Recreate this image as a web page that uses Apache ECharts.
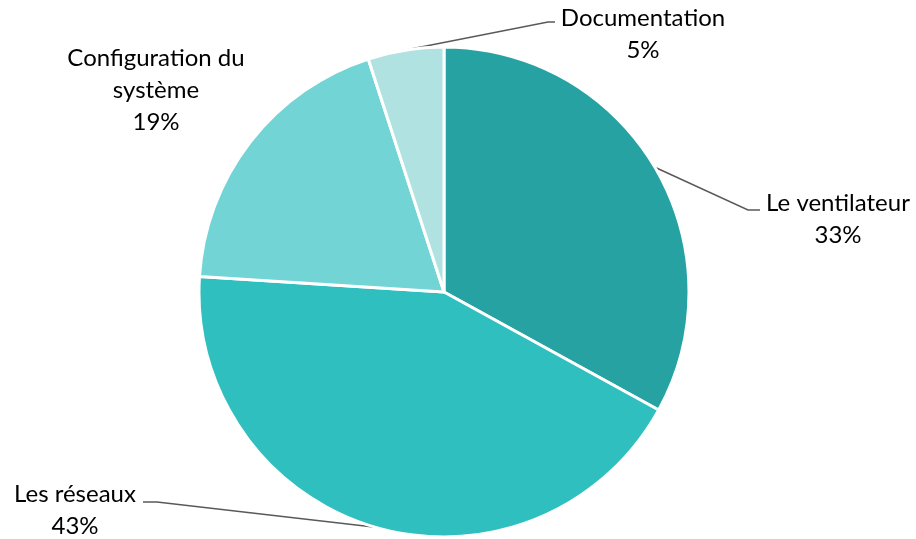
<!DOCTYPE html>
<html>
<head>
<meta charset="utf-8">
<script src="https://cdn.jsdelivr.net/npm/echarts@6/dist/echarts.min.js"></script>
<style>
  html, body { margin: 0; padding: 0; background: #fff; }
  #chart { width: 916px; height: 539px; }
</style>
</head>
<body>
<div id="chart"></div>
<script>
// categories and shares (%)
var categories = ['Le ventilateur', 'Les réseaux', 'Configuration du\nsystème', 'Documentation'];
var shares = [33, 43, 19, 5];
var colors = ['#27A2A2', '#2FBFBF', '#72D4D4', '#B0E2E2'];

// where each label sits, plus the knee / end of its leader line
var labelSpots = [
  { x: 838, y: 219, knee: [748, 210], end: [760, 210] },
  { x: 75, y: 510, knee: [157, 502], end: [143, 502] },
  { x: 156, y: 90, knee: null },
  { x: 643, y: 34, knee: [548, 22], end: [555, 22] }
];

var myChart = echarts.init(document.getElementById('chart'));

var pieData = categories.map(function (name, i) {
  return {
    name: name,
    value: shares[i],
    itemStyle: { color: colors[i] },
    labelLine: { show: labelSpots[i].knee !== null }
  };
});

myChart.setOption({
  animation: false,
  series: [{
    type: 'pie',
    center: [444, 292],
    radius: 245,
    startAngle: 90,
    clockwise: true,
    data: pieData,
    itemStyle: { borderColor: '#fff', borderWidth: 3 },
    label: {
      show: true,
      position: 'outside',
      formatter: function (p) { return p.name + '\n' + p.value + '%'; },
      fontFamily: 'Lato, Noto Sans, sans-serif',
      fontSize: 24,
      lineHeight: 32,
      color: '#000',
      align: 'center'
    },
    labelLine: {
      show: true,
      lineStyle: { color: '#595959', width: 1.5 }
    },
    labelLayout: function (params) {
      var s = labelSpots[params.dataIndex];
      var out = { x: s.x, y: s.y, align: 'center', verticalAlign: 'middle' };
      if (s.knee && params.labelLinePoints) {
        out.labelLinePoints = [params.labelLinePoints[0], s.knee, s.end];
      }
      return out;
    }
  }]
});

window.addEventListener('resize', function () {
  myChart.resize();
});
</script>
</body>
</html>
